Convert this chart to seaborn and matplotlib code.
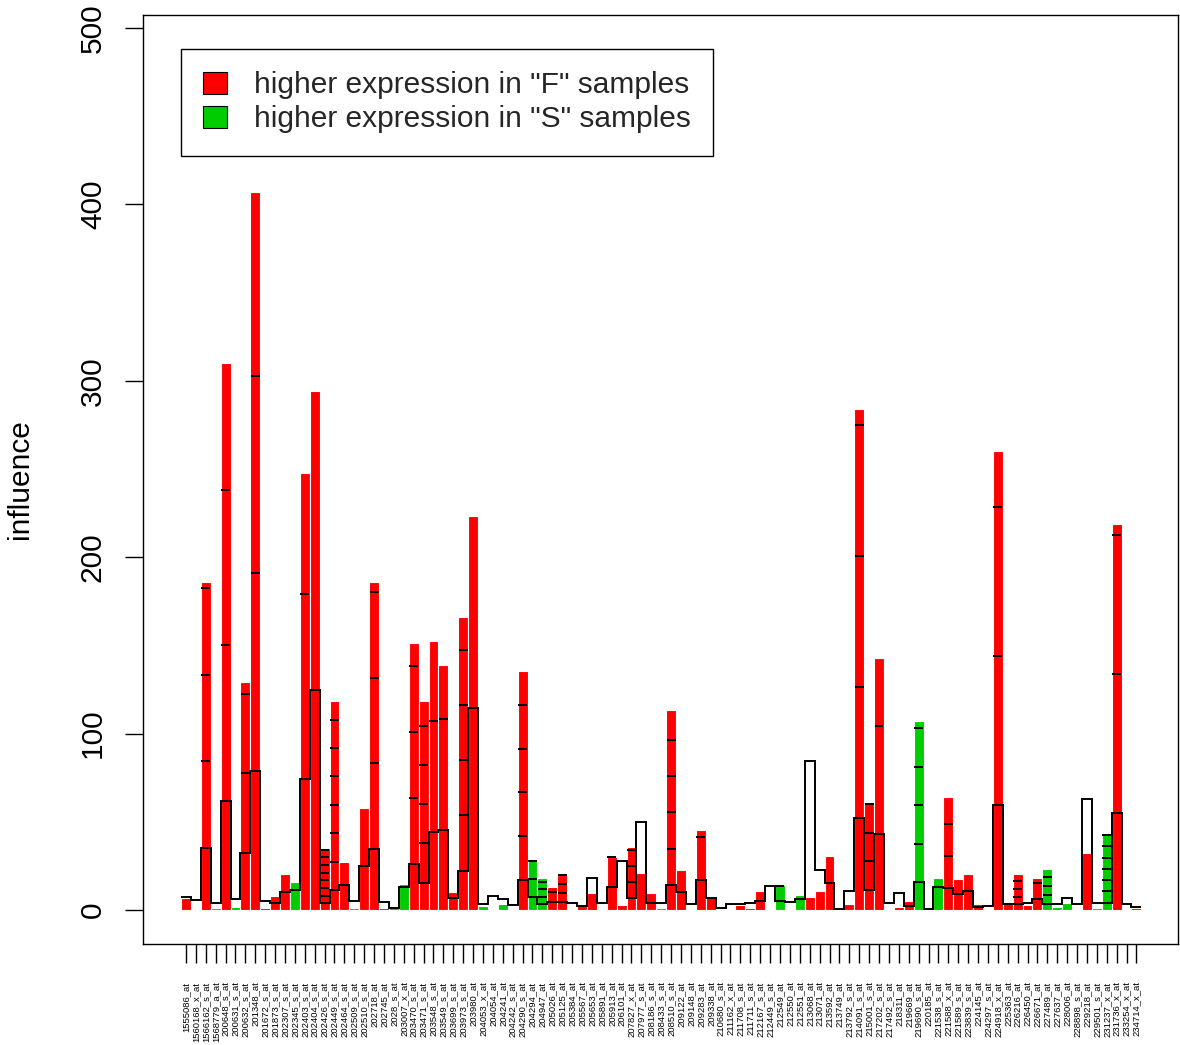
import numpy as np
import pandas as pd
import matplotlib
matplotlib.use("Agg")
import matplotlib.pyplot as plt
import seaborn as sns
from matplotlib.patches import Patch

probes = [
    "1555086_at", "1560168_x_at", "1566162_s_at", "1568779_a_at", "200648_s_at",
    "200631_s_at", "200632_s_at", "201348_at", "201672_s_at", "201873_s_at",
    "202307_s_at", "202345_s_at", "202403_s_at", "202404_s_at", "202426_s_at",
    "202449_s_at", "202464_s_at", "202509_s_at", "202510_s_at", "202718_at",
    "202745_at", "2028_s_at", "203007_x_at", "203470_s_at", "203471_s_at",
    "203548_s_at", "203549_s_at", "203699_s_at", "203973_s_at", "203980_at",
    "204053_x_at", "204054_at", "204241_at", "204242_s_at", "204290_s_at",
    "204294_at", "204947_at", "205026_at", "205125_at", "205384_at",
    "205567_at", "205653_at", "205891_at", "205913_at", "206101_at",
    "207827_x_at", "207977_s_at", "208186_s_at", "208433_s_at", "208510_s_at",
    "209122_at", "209148_at", "209283_at", "209338_at", "210680_s_at",
    "211162_x_at", "211708_s_at", "211711_s_at", "212167_s_at", "212449_s_at",
    "212549_at", "212550_at", "212551_at", "213068_at", "213071_at",
    "213592_at", "213749_at", "213792_s_at", "214091_s_at", "215001_s_at",
    "217202_s_at", "217492_s_at", "218311_at", "219669_at", "219690_s_at",
    "220185_at", "221538_s_at", "221588_x_at", "221589_s_at", "223839_s_at",
    "224145_at", "224297_s_at", "224918_x_at", "225363_at", "226216_at",
    "226450_at", "226671_at", "227489_at", "227637_at", "228006_at",
    "228898_s_at", "229218_at", "229501_s_at", "231237_x_at", "231736_x_at",
    "233254_x_at", "234714_x_at",
]

influence = [
    6.6, 0.5, 186, 1.0, 310, 1.5, 129, 407, 1.0, 7.9,
    20.4, 16, 248, 294, 35, 118.5, 27, 1.0, 57.6, 186,
    1.0, 2.5, 15, 151.5, 118.5, 152.3, 139, 10, 165.9, 223.4,
    2.5, 0.4, 3.4, 0.3, 135.3, 28.3, 18.3, 12.8, 19.6, 0.3,
    2.5, 9.4, 0.6, 30.2, 2.8, 35.5, 21.2, 9.4, 0.9, 113.4,
    22.5, 0.3, 45.4, 7.9, 0.7, 0.5, 2.8, 1.0, 10.8, 0.5,
    14, 0.3, 8.5, 7.2, 10.8, 30.6, 0.6, 3.4, 284, 60.5,
    143, 0.4, 1.9, 5.1, 107.3, 0.3, 17.9, 64.2, 17.4, 20.2,
    3.4, 0.5, 260, 3.2, 20.4, 2.8, 17.9, 23, 1.9, 4.2,
    0.5, 32.1, 1.0, 42.9, 218.8, 0.5, 1.3,
]

direction = [
    "F", "S", "F", "S", "F", "S", "F", "F", "F", "F",
    "F", "S", "F", "F", "F", "F", "F", "S", "F", "F",
    "F", "S", "S", "F", "F", "F", "F", "F", "F", "F",
    "S", "S", "S", "S", "F", "S", "S", "F", "F", "S",
    "F", "F", "S", "F", "F", "F", "F", "F", "S", "F",
    "F", "S", "F", "F", "F", "F", "F", "F", "F", "S",
    "S", "F", "S", "F", "F", "F", "F", "F", "F", "F",
    "F", "S", "F", "F", "S", "F", "S", "F", "F", "F",
    "F", "F", "F", "F", "F", "F", "F", "S", "S", "S",
    "F", "F", "S", "S", "F", "F", "F",
]

expected = [
    7.6, 5.7, 35, 4.1, 62, 6, 32.5, 79, 5.3, 4.1,
    10, 11.3, 74.3, 124.7, 3.8, 11.3, 14.2, 5.3, 25, 34.6,
    4.7, 1.2, 13.2, 25.9, 15.5, 44, 45.2, 7, 22.3, 114.7,
    3.4, 7.9, 6.2, 2.8, 17, 7.5, 3.4, 4.7, 4.5, 3.8,
    2.2, 17.9, 3.8, 12.8, 28, 6.6, 50, 4.1, 4.0, 14.2,
    10.4, 3.4, 17, 7, 0.9, 3.4, 3.4, 4.1, 5.1, 13.6,
    5.3, 4.7, 6, 84.5, 22.7, 15.1, 0.8, 10.6, 52.3, 11.1,
    42.9, 4.1, 9.8, 2.3, 15.7, 0.6, 13.2, 12.7, 8.9, 10.9,
    1.9, 2.3, 59.5, 3.2, 3.2, 4.1, 6.2, 3.2, 3.2, 7,
    3.2, 62.7, 4.1, 4.1, 55.2, 3.2, 1.9,
]

sd = [
    5, 5, 49.2, 5, 88, 5, 45, 112, 5, 5,
    12, 8, 105, 180, 4.35, 16.1, 15, 5, 35, 48.5,
    5, 2, 8, 37.4, 22.2, 63.3, 62.9, 5, 31.3, 115,
    5, 5, 5, 5, 24.8, 10, 4.1, 5.7, 5.1, 5,
    2, 10, 5, 17, 10, 9.2, 20, 6, 5, 20.6,
    13, 5, 24.2, 5, 2, 5, 5, 5, 7, 8,
    8.5, 5, 5, 30, 15, 16, 2, 8, 74.3, 16.4,
    61.4, 5, 8, 3.5, 21.8, 2, 8, 17.9, 10, 11,
    2, 3, 84.5, 3, 4.4, 4, 8.9, 5.1, 3, 5,
    3, 30, 4, 6.4, 78.7, 3, 2,
]

legend_labels = ['higher expression in "F" samples', 'higher expression in "S" samples']
colors = {"F": "#FF0000", "S": "#00CD00"}

sns.set_theme(style="white")
plt.rcParams["font.family"] = ["Liberation Sans", "DejaVu Sans"]

W, H = 1180, 1045
fig = plt.figure(figsize=(W / 100, H / 100), dpi=100)
ax = fig.add_axes([143 / W, 1 - 944 / H, (1178 - 143) / W, (944 - 15) / H])

df = pd.DataFrame({"probe": probes, "influence": influence, "group": direction})
sns.barplot(data=df, x="probe", y="influence", hue="group", order=probes,
            hue_order=["F", "S"], palette=colors, dodge=False, width=1.0,
            edgecolor="white", linewidth=0.8, saturation=1, errorbar=None,
            legend=False, ax=ax)

n = len(probes)
pos = np.arange(n)
edges = np.arange(n + 1) - 0.5
ax.stairs(expected, edges, baseline=None, color="black", linewidth=1.4, zorder=5)

mark_y, mark_x0, mark_x1 = [], [], []
for i in range(n):
    k = 1
    while expected[i] + k * sd[i] <= influence[i] + 0.3:
        mark_y.append(expected[i] + k * sd[i])
        mark_x0.append(pos[i] - 0.45)
        mark_x1.append(pos[i] + 0.45)
        k += 1
ax.hlines(mark_y, mark_x0, mark_x1, colors="black", linewidth=1.4, zorder=6)

ax.set_xlim(-4.34, 100.2)
ax.set_ylim(-19.3, 507.4)
ax.set_yticks([0, 100, 200, 300, 400, 500])
ax.set_yticklabels(["0", "100", "200", "300", "400", "500"])
for lab in ax.get_yticklabels():
    lab.set_rotation(90)
    lab.set_verticalalignment("center")
ax.tick_params(axis="y", labelsize=21.5, length=13, width=1, direction="out",
               pad=13, left=True, colors="black")
ax.set_xticks(pos)
ax.set_xticklabels(probes, rotation=90, fontsize=6.8, va="top", ha="center")
ax.tick_params(axis="x", length=14, width=1, direction="out", pad=13,
               bottom=True, colors="black")
ax.set_xlabel("")
ax.set_ylabel("influence", fontsize=21.5, color="black")
ax.yaxis.set_label_coords(-0.105, 0.5)

for s in ax.spines.values():
    s.set_visible(True)
    s.set_color("black")
    s.set_linewidth(1.0)

handles = [Patch(facecolor=colors["F"], edgecolor="black", linewidth=0.8),
           Patch(facecolor=colors["S"], edgecolor="black", linewidth=0.8)]
leg = ax.legend(handles, legend_labels, loc="upper left",
                bbox_to_anchor=((181 - 143) / 1035, (944 - 49) / 929),
                borderaxespad=0, fontsize=21.5, frameon=True, fancybox=False,
                framealpha=1, edgecolor="black", handlelength=0.8,
                handleheight=0.75, handletextpad=0.9, borderpad=0.75,
                labelspacing=0.2)
leg.get_frame().set_linewidth(1.0)

fig.savefig("out.png", dpi=100, facecolor="white")
